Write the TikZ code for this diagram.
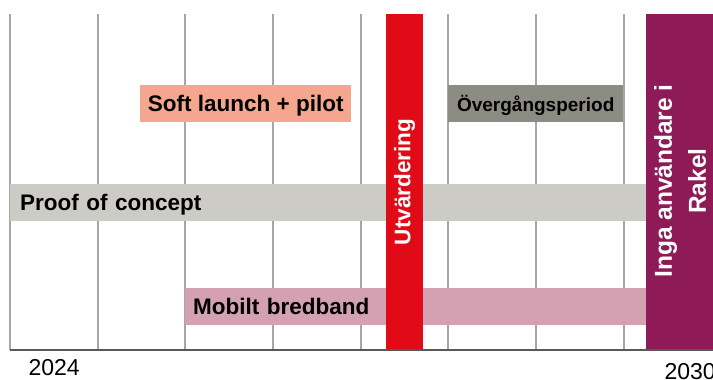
\documentclass[tikz,border=0pt]{standalone}
\usepackage{fontspec}
\setmainfont{Liberation Sans}
\usepackage{color}
\definecolor{gridgray}{HTML}{A6A6A6}
\definecolor{axisgray}{HTML}{595959}
\definecolor{softcol}{HTML}{F4A68F}
\definecolor{overcol}{HTML}{8C8C84}
\definecolor{proofcol}{HTML}{CCCBC5}
\definecolor{mobcol}{HTML}{D4A1B2}
\definecolor{utvcol}{HTML}{E00B16}
\definecolor{rakelcol}{HTML}{8E1A57}

\begin{document}
\begin{tikzpicture}[x=1pt, y=-1pt,
    gridline/.style={gridgray, line width=2pt},
    axisline/.style={axisgray, line width=2pt},
    bar/.style={anchor=north west, minimum height=37pt, inner ysep=0pt,
      text height=16.5pt, text depth=0pt,
      font=\fontsize{22.5}{27}\selectfont\bfseries},
    vbar/.style={rotate=90, inner sep=0pt, text=white,
      font=\fontsize{22.5}{27}\selectfont\bfseries},
    year/.style={anchor=base west, font=\fontsize{23}{27}\selectfont}]
  \useasboundingbox (0,0) rectangle (713,380);

  \foreach \i in {0,...,7}
    \draw[gridline] (10+87.66*\i,14) -- (10+87.66*\i,350);

  \node[bar, fill=softcol, minimum width=211pt] (soft) at (140,85) {Soft launch + pilot};
  \node[bar, fill=overcol, minimum width=175pt,
    font=\fontsize{19}{23}\selectfont\bfseries] (over) at (448,85) {Övergångsperiod};
  \node[bar, fill=proofcol, text width=616pt, inner xsep=10pt, align=left] (proof) at (10,184) {Proof of concept};
  \node[bar, fill=mobcol, text width=445pt, inner xsep=8pt, align=left] (mobilt) at (185,288) {Mobilt bredband};

  \node[vbar, fill=utvcol, minimum width=336pt, minimum height=37pt] (utv) at (404.5,182) {Utvärdering};
  \node[fill=rakelcol, anchor=north west, minimum width=67pt, minimum height=336pt, inner sep=0pt] (rakelbar) at (646,14) {};
  \node[vbar, align=center, font=\fontsize{24.5}{34}\selectfont\bfseries] (rakel) at (680,181) {Inga användare i\\Rakel};

  \draw[axisline] (10,350) -- (713,350);

  \node[year] (y2024) at (25,375) {2024};
  \node[year] (y2030) at (661,379) {2030};
\end{tikzpicture}
\end{document}
